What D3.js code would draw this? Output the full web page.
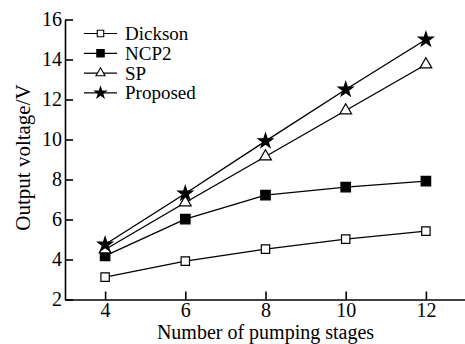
<!DOCTYPE html>
<html>
<head>
<meta charset="utf-8">
<script src="https://cdn.jsdelivr.net/npm/d3@7"></script>
<style>
  body { margin: 0; background: #fff; }
  text { font-family: "Liberation Serif", "Times New Roman", serif; fill: #000; }
</style>
</head>
<body>
<div id="chart"></div>
<script>
const stages = [4, 6, 8, 10, 12];
const dickson = [3.12, 3.92, 4.52, 5.02, 5.42];
const ncp2 = [4.18, 6.02, 7.22, 7.62, 7.92];
const sp = [4.5, 6.85, 9.15, 11.45, 13.75];
const proposed = [4.75, 7.3, 9.92, 12.5, 15.0];
const xTicks = [4, 6, 8, 10, 12];
const yTicks = [2, 4, 6, 8, 10, 12, 14, 16];

const width = 465, height = 344;

const series = [
    { name: "Dickson", values: dickson, symbol: d3.symbolSquare, size: 70, fill: "#fff" },
    { name: "NCP2", values: ncp2, symbol: d3.symbolSquare, size: 90, fill: "#000" },
    { name: "SP", values: sp, symbol: d3.symbolTriangle, size: 60, fill: "#fff" },
    { name: "Proposed", values: proposed, symbol: d3.symbolStar, size: 65, fill: "#000" }
];

const x = d3.scaleLinear().domain([3, 13]).range([65, 466]);
const y = d3.scaleLinear().domain([2, 16]).range([299.5, 19.5]);

const svg = d3.select("#chart").append("svg")
    .attr("width", width)
    .attr("height", height);

// axes, ticks pointing inward
const xAxis = svg.append("g")
    .attr("transform", `translate(0, ${y(2)})`)
    .call(d3.axisBottom(x).tickValues(xTicks).tickSizeInner(-8).tickSizeOuter(0).tickPadding(3));
const yAxis = svg.append("g")
    .attr("transform", `translate(${x(3)}, 0)`)
    .call(d3.axisLeft(y).tickValues(yTicks).tickSizeInner(-8).tickSizeOuter(0).tickPadding(3));

[xAxis, yAxis].forEach(g => {
    g.select(".domain").attr("stroke", "#000").attr("stroke-width", 1.6);
    g.selectAll(".tick line").attr("stroke", "#000").attr("stroke-width", 1.6);
    g.selectAll(".tick text")
        .style("font-family", "'Liberation Serif', serif")
        .style("font-size", "20px")
        .attr("fill", "#000");
});

svg.append("text")
    .attr("x", x(8))
    .attr("y", 339)
    .attr("text-anchor", "middle")
    .style("font-size", "20px")
    .text("Number of pumping stages");

svg.append("text")
    .attr("transform", `translate(30, ${y(9.1)}) rotate(-90)`)
    .attr("text-anchor", "middle")
    .style("font-size", "21px")
    .text("Output voltage/V");

const line = d3.line()
    .x((d, i) => x(stages[i]))
    .y(d => y(d));

series.forEach(s => {
    svg.append("path")
        .datum(s.values)
        .attr("fill", "none")
        .attr("stroke", "#000")
        .attr("stroke-width", 1.4)
        .attr("d", line);

    svg.selectAll(null)
        .data(s.values)
        .enter()
        .append("path")
        .attr("transform", (d, i) => `translate(${x(stages[i])}, ${y(d)})`)
        .attr("d", d3.symbol().type(s.symbol).size(s.size))
        .attr("fill", s.fill)
        .attr("stroke", "#000")
        .attr("stroke-width", 1.2);
});

// legend
const legend = svg.append("g");
series.forEach((s, i) => {
    const ly = 33.5 + i * 19.8;
    legend.append("line")
        .attr("x1", 84).attr("x2", 117)
        .attr("y1", ly).attr("y2", ly)
        .attr("stroke", "#000").attr("stroke-width", 1.2);
    legend.append("path")
        .attr("transform", `translate(100.5, ${ly})`)
        .attr("d", d3.symbol().type(s.symbol).size(s.size * 0.6))
        .attr("fill", s.fill)
        .attr("stroke", "#000")
        .attr("stroke-width", 1.1);
    legend.append("text")
        .attr("x", 125)
        .attr("y", ly + 6.5)
        .style("font-size", "19px")
        .text(s.name);
});
</script>
</body>
</html>
